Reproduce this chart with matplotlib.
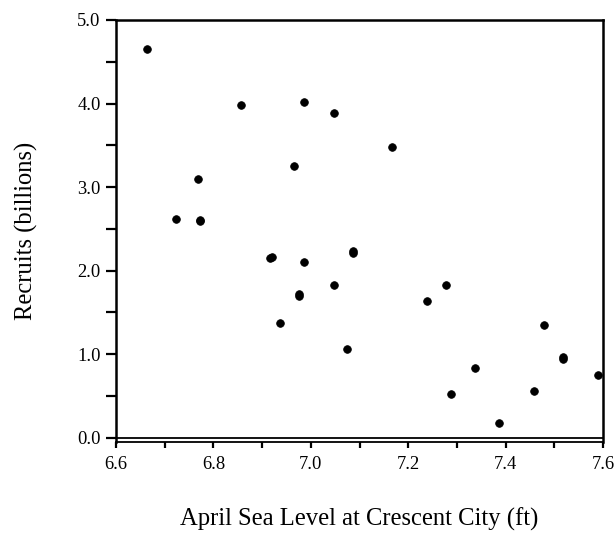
import numpy as np
import matplotlib.pyplot as plt
from matplotlib.ticker import MultipleLocator, FormatStrFormatter

plt.rcParams['font.family'] = ['Liberation Serif', 'DejaVu Serif']

# April sea level (ft) vs recruits (billions); overlapping pairs listed twice
sea_level = [6.664, 6.856, 6.987, 7.048, 7.167, 6.965, 6.768, 6.724,
             6.773, 6.773, 6.916, 6.921, 6.987, 7.086, 7.086, 6.976,
             6.976, 7.048, 6.937, 7.074, 7.239, 7.278, 7.479, 7.518,
             7.518, 7.338, 7.288, 7.458, 7.589, 7.387]
recruits = [4.65, 3.98, 4.015, 3.89, 3.476, 3.25, 3.095, 2.619,
            2.593, 2.612, 2.15, 2.165, 2.11, 2.212, 2.23, 1.702,
            1.72, 1.825, 1.377, 1.063, 1.635, 1.825, 1.35, 0.945,
            0.962, 0.84, 0.524, 0.556, 0.746, 0.175]

fig = plt.figure(figsize=(6.15, 5.36), dpi=100)
ax = fig.add_axes([116/615, 1 - 442/536, 487/615, 422/536])

ax.scatter(sea_level, recruits, s=30, c='black', edgecolors='black',
           linewidths=0.6, zorder=3)
ax.axhline(0, color='black', lw=1.3, zorder=2)

ax.set_xlim(6.6, 7.6)
ax.set_ylim(-0.05, 5.0)

ax.xaxis.set_major_locator(MultipleLocator(0.2))
ax.xaxis.set_minor_locator(MultipleLocator(0.1))
ax.xaxis.set_major_formatter(FormatStrFormatter('%.1f'))
ax.yaxis.set_major_locator(MultipleLocator(1.0))
ax.yaxis.set_minor_locator(MultipleLocator(0.5))
ax.yaxis.set_major_formatter(FormatStrFormatter('%.1f'))

for sp in ax.spines.values():
    sp.set_linewidth(1.8)
ax.spines['bottom'].set_linewidth(1.3)

ax.tick_params(axis='y', which='both', direction='out', length=7, width=1.6,
               labelsize=13.3, pad=4)
ax.tick_params(axis='x', which='both', direction='out', length=4, width=1.6,
               labelsize=13.3, pad=6)
ax.tick_params(top=False, right=False)

ax.set_xlabel('April Sea Level at Crescent City (ft)', fontsize=17.7, labelpad=25)
ax.set_ylabel('Recruits (billions)', fontsize=17.7, labelpad=28)

fig.savefig('out.png', dpi=100)
